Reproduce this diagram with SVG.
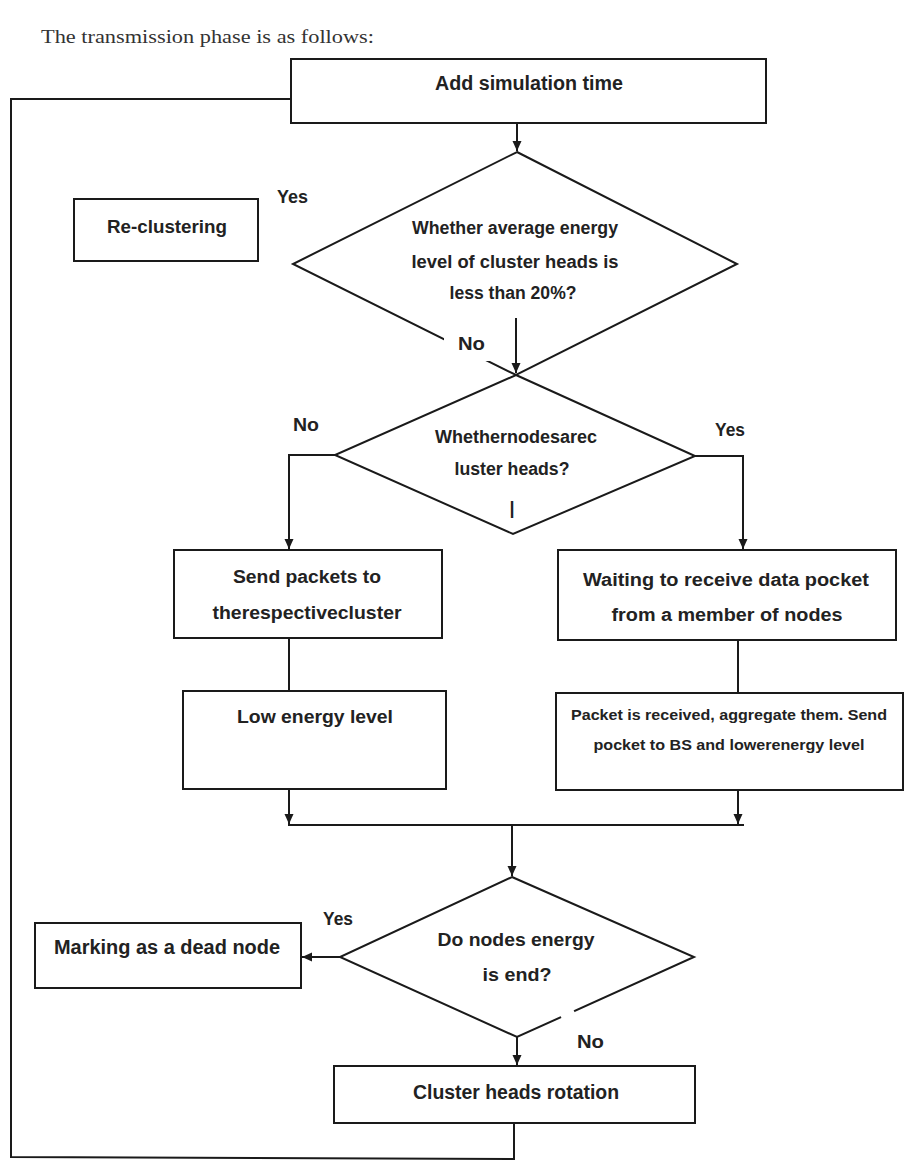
<svg xmlns="http://www.w3.org/2000/svg" width="905" height="1162" viewBox="0 0 905 1162">
<style>
.box{fill:#fff;stroke:#1a1a1a;stroke-width:2}
.dia{fill:none;stroke:#1a1a1a;stroke-width:2;stroke-linejoin:miter}
.ln{fill:none;stroke:#1a1a1a;stroke-width:2}
.t{font-family:"Liberation Sans",Arial,sans-serif;font-weight:bold;font-size:18px;fill:#222;text-anchor:middle}
.lb{font-family:"Liberation Sans",Arial,sans-serif;font-weight:bold;font-size:18px;fill:#222}
.title{font-family:"Liberation Serif","Times New Roman",serif;font-size:19px;fill:#333}
</style>
<defs>
<marker id="ah" markerUnits="userSpaceOnUse" markerWidth="10" markerHeight="10" refX="10" refY="5" orient="auto">
<path d="M0,0.5 L10,5 L0,9.5 z" fill="#1a1a1a"/>
</marker>
</defs>
<rect width="905" height="1162" fill="#fff"/>
<text class="title" x="41" y="43" textLength="333" lengthAdjust="spacingAndGlyphs">The transmission phase is as follows:</text>

<g id="connectors">
<polyline class="ln" points="514,1123 514,1159 11,1157 11,99 291,99" stroke="#222"/>
<line class="ln" x1="517" y1="123" x2="517" y2="151" marker-end="url(#ah)"/>
<line class="ln" x1="516" y1="318" x2="516" y2="373" marker-end="url(#ah)"/>
<polyline class="ln" points="335,455 289,455 289,549" marker-end="url(#ah)"/>
<polyline class="ln" points="695,456 743,456 743,549" marker-end="url(#ah)"/>
<line class="ln" x1="289" y1="638" x2="289" y2="691"/>
<line class="ln" x1="738" y1="640" x2="738" y2="693"/>
<line class="ln" x1="289" y1="789" x2="289" y2="824" marker-end="url(#ah)"/>
<line class="ln" x1="738" y1="790" x2="738" y2="824" marker-end="url(#ah)"/>
<line class="ln" x1="288" y1="825" x2="744" y2="825"/>
<line class="ln" x1="512" y1="825" x2="512" y2="876" marker-end="url(#ah)"/>
<line class="ln" x1="340" y1="957" x2="302" y2="957" marker-end="url(#ah)"/>
<line class="ln" x1="517" y1="1037" x2="517" y2="1065" marker-end="url(#ah)"/>
</g>

<g id="add-simulation-time">
<rect class="box" x="291" y="59" width="475" height="64"/>
<text class="t" x="529" y="90" font-size="20" style="font-size:20px" textLength="188" lengthAdjust="spacingAndGlyphs">Add simulation time</text>
</g>

<g id="decision-energy-20">
<polygon class="dia" points="517,152 737,264 516,375 293,264"/>
<text class="t" x="515" y="234" textLength="206" lengthAdjust="spacingAndGlyphs">Whether average energy</text>
<text class="t" x="515" y="268" textLength="207" lengthAdjust="spacingAndGlyphs">level of cluster heads is</text>
<text class="t" x="513" y="299" textLength="127" lengthAdjust="spacingAndGlyphs">less than 20%?</text>
<rect x="444" y="329" width="46" height="32" fill="#fff"/>
<text class="lb" x="458" y="350" textLength="27" lengthAdjust="spacingAndGlyphs">No</text>
</g>

<g id="re-clustering">
<rect class="box" x="74" y="199" width="184" height="62"/>
<text class="t" x="167" y="233" textLength="120" lengthAdjust="spacingAndGlyphs">Re-clustering</text>
<text class="lb" x="277" y="203" textLength="31" lengthAdjust="spacingAndGlyphs">Yes</text>
</g>

<g id="decision-cluster-heads">
<polygon class="dia" points="516,375 695,456 513,534 335,455"/>
<text class="t" x="516" y="443" textLength="162" lengthAdjust="spacingAndGlyphs">Whethernodesarec</text>
<text class="t" x="512" y="475" textLength="115" lengthAdjust="spacingAndGlyphs">luster heads?</text>
<text class="t" x="512" y="514" font-weight="normal">|</text>
<text class="lb" x="293" y="431" textLength="26" lengthAdjust="spacingAndGlyphs">No</text>
<text class="lb" x="715" y="436" textLength="30" lengthAdjust="spacingAndGlyphs">Yes</text>
</g>

<g id="send-packets">
<rect class="box" x="174" y="550" width="268" height="88"/>
<text class="t" x="307" y="583" textLength="148" lengthAdjust="spacingAndGlyphs">Send packets to</text>
<text class="t" x="307" y="619" textLength="189" lengthAdjust="spacingAndGlyphs">therespectivecluster</text>
</g>

<g id="waiting-receive">
<rect class="box" x="558" y="550" width="338" height="90"/>
<text class="t" x="726" y="586" textLength="286" lengthAdjust="spacingAndGlyphs">Waiting to receive data pocket</text>
<text class="t" x="727" y="621" textLength="231" lengthAdjust="spacingAndGlyphs">from a member of nodes</text>
</g>

<g id="low-energy">
<rect class="box" x="183" y="691" width="263" height="98"/>
<text class="t" x="315" y="723" textLength="156" lengthAdjust="spacingAndGlyphs">Low energy level</text>
</g>

<g id="packet-received">
<rect class="box" x="556" y="693" width="347" height="97"/>
<text class="t" x="729" y="720" style="font-size:15px" textLength="316" lengthAdjust="spacingAndGlyphs">Packet is received, aggregate them. Send</text>
<text class="t" x="729" y="750" style="font-size:15px" textLength="271" lengthAdjust="spacingAndGlyphs">pocket to BS and lowerenergy level</text>
</g>

<g id="decision-energy-end">
<polygon class="dia" points="512,877 694,957 517,1037 340,957"/>
<line x1="561" y1="1017" x2="574" y2="1011" stroke="#fff" stroke-width="4"/>
<text class="t" x="516" y="946" style="font-size:19px" textLength="157" lengthAdjust="spacingAndGlyphs">Do nodes energy</text>
<text class="t" x="517" y="981" style="font-size:19px" textLength="69" lengthAdjust="spacingAndGlyphs">is end?</text>
<text class="lb" x="323" y="925" textLength="30" lengthAdjust="spacingAndGlyphs">Yes</text>
<text class="lb" x="577" y="1048" textLength="27" lengthAdjust="spacingAndGlyphs">No</text>
</g>

<g id="dead-node">
<rect class="box" x="35" y="923" width="266" height="65"/>
<text class="t" x="167" y="954" style="font-size:20px" textLength="226" lengthAdjust="spacingAndGlyphs">Marking as a dead node</text>
</g>

<g id="cluster-heads-rotation">
<rect class="box" x="334" y="1066" width="361" height="57"/>
<text class="t" x="516" y="1099" style="font-size:20px" textLength="206" lengthAdjust="spacingAndGlyphs">Cluster heads rotation</text>
</g>
</svg>
